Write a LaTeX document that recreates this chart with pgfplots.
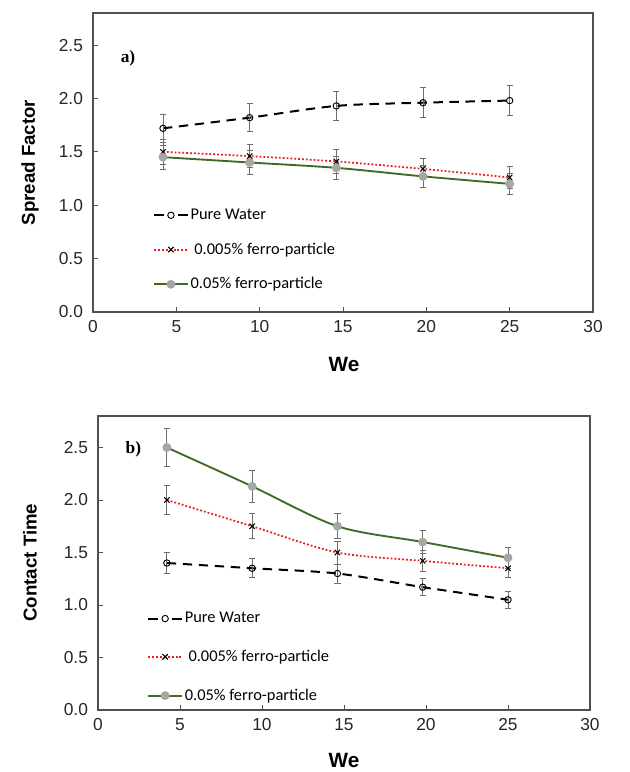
\documentclass[border=0pt]{standalone}
\usepackage{fontspec}
\setmainfont{Liberation Sans}
\newfontfamily\calfont{Carlito}
\newfontfamily\tnrfont{Liberation Serif}
\usepackage{pgfplots}
\pgfplotsset{compat=1.18}
\definecolor{axisgray}{RGB}{80,80,80}
\definecolor{errgray}{RGB}{110,110,110}
\definecolor{dgreen}{RGB}{62,108,38}
\definecolor{mgray}{RGB}{166,166,166}
\definecolor{myred}{RGB}{235,30,30}

\pgfplotstableread{
x y e
4.2 1.72 0.13
9.4 1.82 0.13
14.6 1.93 0.14
19.8 1.96 0.14
25 1.98 0.14
}\SFwater
\pgfplotstableread{
x y e
4.2 1.50 0.12
9.4 1.46 0.11
14.6 1.41 0.11
19.8 1.34 0.10
25 1.26 0.10
}\SFlow
\pgfplotstableread{
x y e
4.2 1.45 0.11
9.4 1.40 0.11
14.6 1.35 0.11
19.8 1.27 0.10
25 1.20 0.10
}\SFhigh
\pgfplotstableread{
x y e
4.2 1.40 0.10
9.4 1.35 0.09
14.6 1.30 0.09
19.8 1.17 0.08
25 1.05 0.08
}\CTwater
\pgfplotstableread{
x y e
4.2 2.00 0.14
9.4 1.75 0.12
14.6 1.50 0.11
19.8 1.42 0.10
25 1.35 0.09
}\CTlow
\pgfplotstableread{
x y e
4.2 2.50 0.18
9.4 2.13 0.15
14.6 1.75 0.12
19.8 1.60 0.11
25 1.45 0.10
}\CThigh

\pgfplotsset{
  myax/.style={
    scale only axis,
    xmin=0, xmax=30, ymin=0, ymax=2.8,
    xtick={0,5,10,15,20,25,30},
    ytick={0,0.5,1,1.5,2,2.5},
    tick align=inside, xtick pos=bottom, ytick pos=left,
    major tick length=4pt,
    axis line style={draw=axisgray, line width=0.8pt},
    every tick/.style={draw=axisgray, line width=0.6pt},
    /pgf/number format/assume math mode=true,
    ticklabel style={font=\fontsize{13}{15}\selectfont, text=black!85},
    yticklabel style={/pgf/number format/fixed, /pgf/number format/fixed zerofill, /pgf/number format/precision=1, xshift=-4pt},
    xticklabel style={yshift=-3pt},
    legend cell align=left,
    legend style={draw=none, fill=none, inner sep=0pt, font=\calfont\fontsize{12.3}{14}\selectfont,
      nodes={inner sep=1.5pt}},
    legend image code/.code={\draw[mark repeat=2,mark phase=2] plot coordinates {(0pt,0pt) (12.5pt,0pt) (25pt,0pt)};},
  },
  ebar/.style={error bars/.cd, y dir=both, y explicit,
    error bar style={color=errgray, line width=0.6pt, solid},
    error mark options={rotate=90, mark size=2.3pt, color=errgray, line width=0.6pt, solid}},
  water/.style={black, line width=1.5pt, dash pattern=on 7pt off 5pt, mark=o, mark size=2.4pt, mark options={solid, line width=0.7pt}, smooth,
    legend image code/.code={\draw[mark repeat=2,mark phase=2, dash pattern=on 7.5pt off 10pt] plot coordinates {(0pt,0pt) (12.5pt,0pt) (25pt,0pt)};}},
  low/.style={myred, line width=1.3pt, dash pattern=on 1.4pt off 1.5pt, mark=x, mark size=2.8pt, mark options={solid, black, line width=0.8pt}, smooth,
    legend image code/.code={\draw[myred, line width=1.5pt, dash pattern=on 1.5pt off 1.4pt] (0pt,0pt) -- (25pt,0pt);
      \draw plot[mark=x, mark size=2.8pt, mark options={solid, black, line width=0.8pt}] coordinates {(12.5pt,0pt)};}},
  high/.style={dgreen, line width=1.4pt, mark=*, mark size=2.6pt, mark options={solid, fill=mgray, draw=mgray}, smooth},
}

\begin{document}
\begin{tikzpicture}
\path[use as bounding box] (0,0) rectangle (472.5pt,-579pt);

% ---- Panel a
\begin{axis}[myax, at={(69.75pt,-9.75pt)}, anchor=north west,
  width=375pt, height=224.25pt,
  legend style={at={(0.12,0.352)}, anchor=north west, row sep=13pt}]
\addplot+[water, ebar] table[x=x, y=y, y error=e] {\SFwater};
\addlegendentry{Pure Water}
\addplot+[low, ebar] table[x=x, y=y, y error=e] {\SFlow};
\addlegendentry{\ 0.005\% ferro-particle}
\addplot+[high, ebar] table[x=x, y=y, y error=e] {\SFhigh};
\addlegendentry{0.05\% ferro-particle}
\end{axis}

% ---- Panel b
\begin{axis}[myax, at={(73.5pt,-312pt)}, anchor=north west,
  width=369pt, height=220.5pt,
  legend style={at={(0.10,0.34)}, anchor=north west, row sep=16pt}]
\addplot+[water, ebar] table[x=x, y=y, y error=e] {\CTwater};
\addlegendentry{Pure Water}
\addplot+[low, ebar] table[x=x, y=y, y error=e] {\CTlow};
\addlegendentry{\ 0.005\% ferro-particle}
\addplot+[high, ebar] table[x=x, y=y, y error=e] {\CThigh};
\addlegendentry{0.05\% ferro-particle}
\end{axis}

% ---- labels
\node[font=\bfseries\fontsize{14}{16}\selectfont, rotate=90] at (22.5pt,-122pt) {Spread Factor};
\node[font=\bfseries\fontsize{15.5}{18}\selectfont] at (258pt,-273pt) {We};
\node[font=\tnrfont\bfseries\fontsize{13}{15}\selectfont] at (96pt,-43.5pt) {a)};

\node[font=\bfseries\fontsize{14}{16}\selectfont, rotate=90] at (22.5pt,-422pt) {Contact Time};
\node[font=\bfseries\fontsize{15.5}{18}\selectfont] at (258pt,-570pt) {We};
\node[font=\tnrfont\bfseries\fontsize{13}{15}\selectfont] at (100pt,-337pt) {b)};
\end{tikzpicture}
\end{document}
